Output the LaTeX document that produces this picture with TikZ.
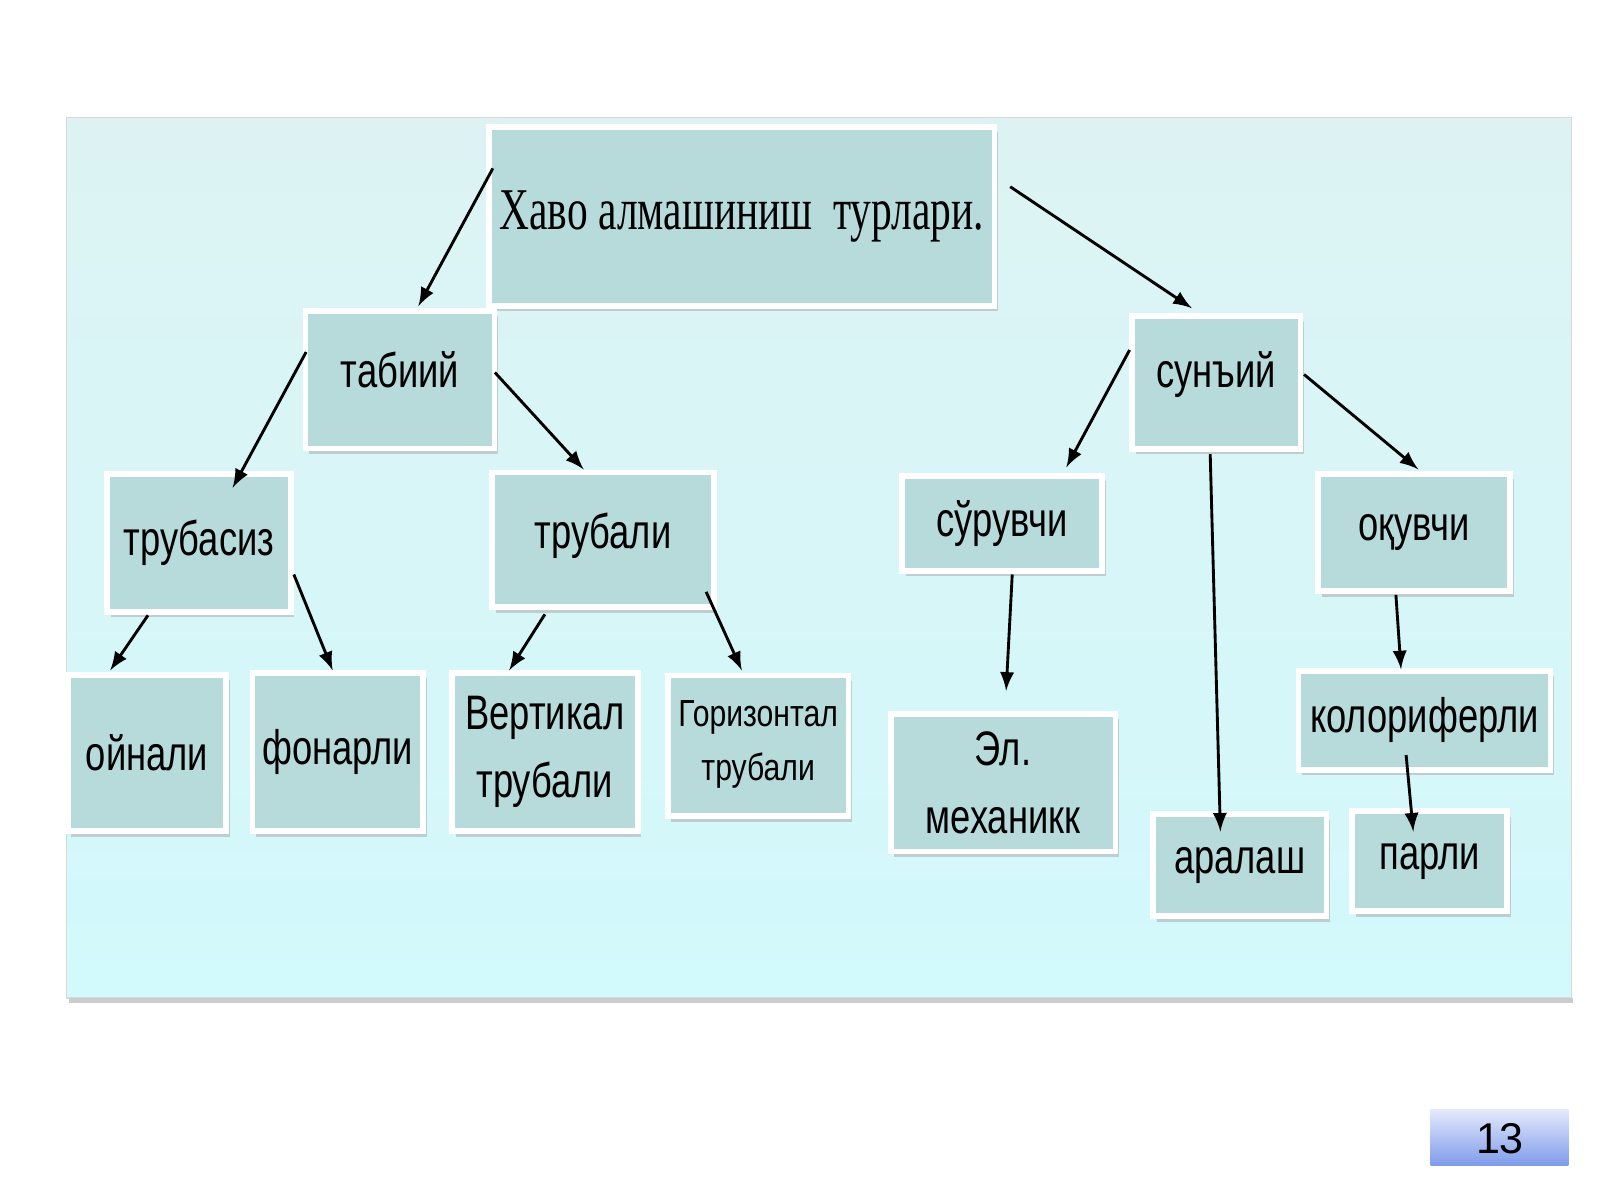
\documentclass[tikz,border=0pt]{standalone}
\usepackage{fontspec}
\setmainfont{Liberation Sans}
\newfontfamily\serifcyr{Liberation Serif}
\usetikzlibrary{shadows}
\definecolor{boxfill}{HTML}{B7DADB}
\definecolor{panelA}{HTML}{DDF3F3}
\definecolor{panelB}{HTML}{D2F9FC}
\definecolor{numA}{HTML}{E4E9FB}
\definecolor{numB}{HTML}{7F9CEB}
\newcommand{\narrow}[2][0.75]{\scalebox{#1}[1]{#2}}
\newcommand{\lift}[2]{\raisebox{#1}{#2}}
\tikzset{
  box/.style={draw=white, line width=1.6pt, fill=boxfill, inner sep=0pt,
    drop shadow={shadow xshift=1pt, shadow yshift=-1.5pt, fill=black!35, opacity=0.5},
    font=\fontsize{13.5}{17}\selectfont, align=center},
  link/.style={-latex, thick}
}
\begin{document}
\begin{tikzpicture}[x=0.01cm, y=-0.01cm]
  \useasboundingbox (0,0) rectangle (1568,1176);
  % Panel
  \shade[top color=panelA, bottom color=panelB, draw=black!15] (65,115) rectangle (1540,978);
  \fill[black!20] (68,978) rectangle (1542,983);

  % Boxes
  \node[box, minimum width=4.95cm, minimum height=1.75cm] (root) at (727,212)
    {\lift{-0.13cm}{\serifcyr\fontsize{16.5}{18}\selectfont\narrow[0.7]{Хаво алмашиниш\ \ турлари.}}};
  \node[box, minimum width=1.85cm, minimum height=1.35cm] (tab) at (392,372) {\lift{0.2cm}{\narrow{табиий}}};
  \node[box, minimum width=1.65cm, minimum height=1.3cm] (sun) at (1192,375) {\lift{0.25cm}{\narrow{сунъий}}};
  \node[box, minimum width=1.8cm, minimum height=1.35cm] (trs) at (195,532) {\lift{-0.23cm}{\narrow{трубасиз}}};
  \node[box, minimum width=2.17cm, minimum height=1.32cm] (trb) at (591,529) {\lift{0.17cm}{\narrow{трубали}}};
  \node[box, minimum width=1.96cm, minimum height=0.93cm] (sur) at (982,513) {\narrow{сўрувчи}};
  \node[box, minimum width=1.88cm, minimum height=1.15cm] (oqu) at (1386,522) {\narrow{оқувчи}};
  \node[box, minimum width=1.55cm, minimum height=1.53cm] (oyn) at (144,738) {\lift{-0.14cm}{\narrow{ойнали}}};
  \node[box, minimum width=1.67cm, minimum height=1.55cm] (fon) at (331,737) {\lift{-0.1cm}{\narrow{фонарли}}};
  \node[box, minimum width=1.82cm, minimum height=1.55cm, font=\fontsize{13.5}{19}\selectfont]
    (ver) at (534,737) {\narrow{Вертикал}\\\narrow{трубали}};
  \node[box, minimum width=1.77cm, minimum height=1.38cm, font=\fontsize{10.5}{15}\selectfont]
    (gor) at (743,731) {\lift{0.1cm}{\narrow[0.8]{Горизонтал}}\\\lift{0.1cm}{\narrow[0.8]{трубали}}};
  \node[box, minimum width=2.2cm, minimum height=1.35cm, font=\fontsize{13.5}{19}\selectfont]
    (mex) at (983,767) {\lift{-0.08cm}{\narrow{Эл.}}\\\lift{-0.08cm}{\narrow{механикк}}};
  \node[box, minimum width=2.47cm, minimum height=0.97cm] (kol) at (1396,706) {\narrow{колориферли}};
  \node[box, minimum width=1.7cm, minimum height=1.0cm] (ara) at (1215,848) {\narrow{аралаш}};
  \node[box, minimum width=1.52cm, minimum height=0.98cm] (par) at (1401,844) {\narrow{парли}};

  % Arrow ends
  \coordinate (a1) at (483,165);  \coordinate (b1) at (410,300);
  \coordinate (a2) at (990,183);  \coordinate (b2) at (1168,302);
  \coordinate (a3) at (300,345);  \coordinate (b3) at (228,478);
  \coordinate (a4) at (485,365);  \coordinate (b4) at (572,460);
  \coordinate (a5) at (1107,343); \coordinate (b5) at (1045,458);
  \coordinate (a6) at (1278,367); \coordinate (b6) at (1390,460);
  \coordinate (a7) at (1186,445); \coordinate (b7) at (1196,815);
  \coordinate (a8) at (145,603);  \coordinate (b8) at (108,657);
  \coordinate (a9) at (288,563);  \coordinate (b9) at (326,657);
  \coordinate (a10) at (534,602); \coordinate (b10) at (499,657);
  \coordinate (a11) at (692,580); \coordinate (b11) at (727,657);
  \coordinate (a12) at (992,563); \coordinate (b12) at (986,677);
  \coordinate (a13) at (1368,583); \coordinate (b13) at (1373,656);
  \coordinate (a14) at (1378,740); \coordinate (b14) at (1385,815);

  % Connectors
  \foreach \i in {1,...,14}
    \draw[link] (a\i) -- (b\i);

  % Page number
  \shade[top color=numA, bottom color=numB] (1402,1087) rectangle (1537,1142);
  \node[font=\fontsize{12}{14}\selectfont] (num) at (1470,1116) {13};
\end{tikzpicture}
\end{document}
